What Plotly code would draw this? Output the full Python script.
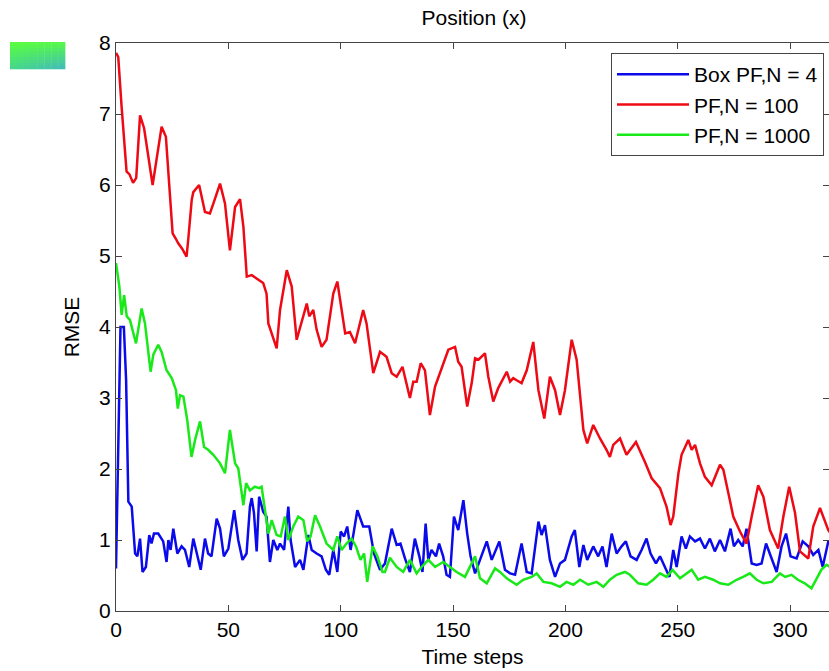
import plotly.graph_objects as go

# ---------------- data ----------------
red_t = [0, 1, 2.5, 4.7, 6, 7.6, 9, 10.7, 12.5, 14.5, 16.3, 18, 20.3, 22.2, 24, 25.2, 26.5, 27.7, 29.5, 31.4,
         32.2, 33.7, 34.4, 37, 39.6, 41.8, 44, 46.3, 48.5, 50.7, 53, 55.2, 56.7, 58.2, 60.4, 62.6, 65.5, 67, 67.8,
         71.5, 73, 76, 78.2, 80.4, 81.9, 84.9, 86, 87.8, 89.3, 91.5, 93.7, 96.7, 98.5, 102, 104.1, 106.4, 110,
         111.5, 114.5, 117.5, 120.4, 122.7, 124.9, 127.5, 130.8, 132.3, 133.8, 135.6, 137.5, 139.7, 142, 145.6,
         147.9, 150.9, 152.3, 153.8, 156.3, 158.3, 159.8, 161.3, 164.2, 165.7, 167.9, 170.1, 172.4, 173.9, 175.4,
         176.8, 178.3, 180.5, 182.8, 185.7, 188, 190.6, 193.1, 195.4, 197.6, 199.8, 202.8, 205, 208, 209.7,
         212.4, 214.6, 215.4, 218.3, 219.8, 221.3, 224.3, 227.2, 231.4, 235.4, 238.4, 242.1, 245, 246.8, 248,
         250.3, 251.7, 254.7, 256.2, 257.7, 259.9, 262.1, 265.1, 268.8, 270.3, 273.2, 274.7, 277.7, 280.6,
         282.9, 285.8, 288.1, 291, 294.7, 297, 299.6, 302.2, 304.4, 308.1, 310.3, 313.3, 317, 319]
red_v = [7.86, 7.8, 7.1, 6.19, 6.15, 6.03, 6.1, 6.98, 6.8, 6.4, 6.0, 6.35, 6.82, 6.68, 5.79, 5.32, 5.25, 5.18, 5.1, 4.99,
         5.25, 5.79, 5.9, 6.0, 5.62, 5.6, 5.8, 6.02, 5.74, 5.08, 5.69, 5.8, 5.41, 4.71, 4.73, 4.68, 4.62, 4.47, 4.05,
         3.70, 4.24, 4.80, 4.57, 3.82, 3.99, 4.33, 4.15, 4.24, 3.96, 3.72, 3.82, 4.47, 4.64, 3.91, 3.93, 3.77, 4.24,
         4.05, 3.35, 3.65, 3.58, 3.35, 3.30, 3.44, 3.0, 3.23, 3.23, 3.49, 3.39, 2.76, 3.16, 3.46,
         3.68, 3.72, 3.51, 3.44, 2.88, 3.21, 3.56, 3.54, 3.63, 3.30, 2.95, 3.14, 3.28, 3.37, 3.23,
         3.28, 3.25, 3.21, 3.39, 3.79, 3.11, 2.71, 3.30, 3.11, 2.76, 3.11, 3.82, 3.54, 2.55, 2.36,
         2.62, 2.48, 2.43, 2.27, 2.17, 2.34, 2.43, 2.20, 2.38, 2.10, 1.87, 1.73, 1.47, 1.21, 1.33,
         1.94, 2.20, 2.41, 2.27, 2.34, 2.08, 1.89, 1.77, 2.06, 1.99, 1.56, 1.33, 1.12, 0.95,
         1.33, 1.77, 1.61, 1.14, 0.88, 1.33, 1.75, 1.38, 0.84, 0.74, 1.19, 1.45, 1.14, 1.05]

blue_t = [0, 1, 2, 3.5, 4.5, 5.5, 7, 8.5, 9.5, 10.7, 11.8, 13.3, 14.8, 15.8, 16.9, 18.8, 21, 22.5, 23.3, 24.3,
          25.5, 27.3, 29.2, 30.7, 32.6, 34.4, 36.1, 37.7, 39.6, 41, 42.5, 44.8, 46.3, 48, 50, 52.6, 54.4, 56.3,
          58.1, 59.6, 60.4, 61.4, 62.6, 63.7, 65.5, 67, 68.5, 70, 71.8, 73, 74.8, 76.7, 77.7, 79.7, 81.9, 83.4,
          85.6, 87.1, 89.3, 91.5, 93.4, 94.9, 96.7, 98.5, 100, 101.5, 102.9, 104.4, 105.6, 107.4, 110, 112.7,
          114.8, 117.5, 119.7, 122.7, 124.9, 126.6, 128.6, 130.8, 133, 135, 136.4, 137.8, 139, 140.4, 142.4,
          143.8, 145.6, 147.1, 148.6, 150.4, 152.3, 154.6, 156.3, 157.8, 159.8, 162, 165, 167.2, 170.6, 173.1,
          175.4, 177.6, 180.5, 182.8, 185, 188, 189.4, 190.9, 193.1, 195.4, 197.6, 199.8, 202.8, 204.2, 206.2,
          208, 209.7, 212.4, 214.6, 216.5, 218.3, 220.6, 222.8, 225, 226.9, 229, 231.7, 233.9, 236.1, 237.9,
          240.3, 242.1, 244.3, 246.3, 248, 249.5, 251.7, 253.6, 255.4, 257.7, 259.9, 262.1, 264.3, 266.5,
          268.8, 271, 273.5, 275, 276.9, 278.9, 280.6, 282.9, 285.1, 287.3, 289.3, 291.3, 294, 296.2, 298.2,
          300.2, 302.9, 305.6, 308.1, 310.3, 312.6, 314.5, 317, 319]
blue_v = [0.6, 2.5, 4.0, 4.0, 3.25, 1.54, 1.47, 0.81, 0.77, 1.02, 0.55, 0.62, 1.07, 0.95, 1.09, 1.09, 0.98, 0.69, 1.0, 0.86,
          1.16, 0.81, 0.91, 0.86, 0.62, 1.02, 0.81, 0.58, 1.02, 0.81, 0.77, 1.30, 1.16, 0.77, 0.88, 1.42, 1.0, 0.72,
          0.81, 1.47, 1.59, 1.38, 0.84, 1.61, 1.40, 1.33, 0.69, 1.0, 0.86, 0.95, 0.86, 1.47, 1.0, 0.62, 0.72, 0.58,
          1.07, 0.86, 0.81, 0.77, 0.58, 0.51, 0.86, 0.55, 1.12, 1.05, 1.19, 0.86, 1.07, 1.42, 1.19, 1.19,
          0.81, 0.58, 0.67, 1.16, 0.93, 0.95, 0.74, 0.55, 1.02, 0.77, 0.55, 1.23, 0.72, 0.86, 0.77,
          0.95, 0.77, 0.51, 0.48, 1.33, 1.14, 1.56, 1.09, 0.77, 0.53, 0.72, 0.98, 0.72, 0.98, 0.58,
          0.53, 0.51, 0.95, 0.55, 0.53, 1.26, 1.07, 1.21, 0.72, 0.48, 0.67, 0.72, 1.05, 1.14, 0.62,
          0.93, 0.72, 0.91, 0.77, 0.91, 0.62, 1.09, 0.81, 0.91, 0.98, 0.77, 0.72, 0.86, 1.02, 0.81,
          0.67, 0.77, 0.62, 0.48, 0.86, 0.62, 1.05, 0.88, 1.05, 0.98, 1.02, 0.88, 1.02, 0.84,
          1.0, 0.84, 1.16, 0.91, 1.0, 0.91, 1.16, 0.67, 0.65, 0.67, 0.95, 0.77, 0.55, 0.91, 1.09,
          0.77, 0.74, 0.98, 0.91, 0.79, 0.86, 0.62, 0.98, 1.0]

green_t = [0, 1.5, 2.5, 3.6, 4.8, 6.2, 8.9, 11.4, 12.9, 15.4, 16.6, 18.8, 20.3, 22.5, 24.8, 26.7, 27.5, 28.5, 30,
           31.7, 33.6, 35.2, 37.4, 39.2, 41, 43.3, 46.3, 48.5, 50.7, 53, 54.4, 56.7, 57.9, 59.6, 61.8, 63.7, 64.8,
           66.3, 67.8, 69.3, 71.5, 73.3, 75.2, 76.7, 78.9, 81.1, 83.4, 85.1, 86.6, 88.6, 90.8, 93.7, 96.7, 98.5,
           100.4, 102.6, 104.8, 106.8, 108.8, 110.4, 111.8, 114.2, 116.3, 118.6, 119.7, 121.9, 124.9, 127.8, 130.8,
           133.8, 136, 139, 142, 145.6, 148.6, 151.6, 155.3, 157.5, 159.8, 162, 165, 168.7, 170.9, 173.9, 178.3,
           181.2, 185, 187.2, 190.2, 193.9, 197.6, 200.5, 203.5, 206.5, 210.2, 213.9, 216.9, 219.8, 222.8, 226.5,
           228.7, 232.4, 236.1, 239.1, 242.1, 245, 247.7, 251, 254, 256.2, 259.1, 262.1, 265.8, 268.8, 272.5,
           276.2, 279.1, 282.1, 285.1, 288.1, 291.8, 295.5, 297.8, 300.6, 303.5, 306.5, 309.5, 311.7, 313.9,
           316.2, 319]
green_v = [4.90, 4.57, 4.17, 4.45, 4.15, 4.10, 3.77, 4.26, 4.05, 3.37, 3.61, 3.75, 3.65, 3.39, 3.28, 3.11, 2.85, 3.04, 3.02,
           2.69, 2.17, 2.41, 2.67, 2.31, 2.27, 2.20, 2.08, 1.94, 2.55, 2.08, 2.01, 1.49, 1.80, 1.70, 1.75, 1.73, 1.75,
           1.38, 1.09, 1.28, 1.07, 1.05, 1.33, 1.0, 1.19, 1.33, 1.28, 0.98, 1.05, 1.35, 1.19, 0.95, 0.86, 1.05,
           0.86, 0.95, 1.02, 0.91, 0.72, 0.81, 0.41, 0.91, 0.77, 0.55, 0.55, 0.75, 0.62, 0.55, 0.72,
           0.53, 0.62, 0.72, 0.62, 0.69, 0.62, 0.55, 0.48, 0.62, 0.77, 0.46, 0.39, 0.60, 0.55, 0.46, 0.37,
           0.44, 0.48, 0.53, 0.41, 0.39, 0.34, 0.41, 0.37, 0.44, 0.37, 0.41, 0.34, 0.44, 0.51, 0.55,
           0.51, 0.39, 0.37, 0.44, 0.53, 0.48, 0.58, 0.46, 0.53, 0.58, 0.44, 0.48, 0.44, 0.39, 0.37,
           0.44, 0.48, 0.53, 0.44, 0.39, 0.41, 0.53, 0.48, 0.51, 0.44, 0.39, 0.32, 0.44, 0.58,
           0.65, 0.6]

series_names = ["Box PF,N = 4", "PF,N = 100", "PF,N = 1000"]
x_ticks = [0, 50, 100, 150, 200, 250, 300]
y_ticks = [0, 1, 2, 3, 4, 5, 6, 7, 8]

# ---------------- layout geometry (pixels) ----------------
W, H = 829, 671
L, R, T, B = 116, 0, 43, 60
PW, PH = W - L - R, H - T - B
FONT = "Liberation Sans, Arial, sans-serif"
FS = 21

def px_to_paper_x(px):
    return (px - L) / PW

def px_to_paper_y(py):
    return (H - B - py) / PH

fig = go.Figure()
fig.add_trace(go.Scatter(x=blue_t, y=blue_v, mode="lines", name=series_names[0],
                         line=dict(color="rgb(10,10,235)", width=2.5)))
fig.add_trace(go.Scatter(x=red_t, y=red_v, mode="lines", name=series_names[1],
                         line=dict(color="rgb(238,10,20)", width=2.5)))
fig.add_trace(go.Scatter(x=green_t, y=green_v, mode="lines", name=series_names[2],
                         line=dict(color="rgb(25,232,25)", width=2.5)))

# gradient swatch in the top-left corner (decoration)
shapes = []
x0p, x1p, y0p, y1p = 10, 65, 42, 69
ncol, nrow = 8, 9
TL, TR, BL, BR = (90, 255, 60), (85, 250, 70), (70, 215, 140), (65, 185, 190)
for i in range(nrow):
    for j in range(ncol):
        fy = (i + 0.5) / nrow
        fx = (j + 0.5) / ncol
        c = [TL[k] * (1 - fx) * (1 - fy) + TR[k] * fx * (1 - fy) + BL[k] * (1 - fx) * fy + BR[k] * fx * fy
             for k in range(3)]
        xa = x0p + (x1p - x0p) * j / ncol
        xb = x0p + (x1p - x0p) * (j + 1) / ncol
        ya = y0p + (y1p - y0p) * i / nrow
        yb = y0p + (y1p - y0p) * (i + 1) / nrow
        shapes.append(dict(type="rect", xref="paper", yref="paper",
                           x0=px_to_paper_x(xa), x1=px_to_paper_x(xb) + 0.0005,
                           y0=px_to_paper_y(yb) - 0.0005, y1=px_to_paper_y(ya),
                           line=dict(width=0),
                           fillcolor="rgb(%d,%d,%d)" % tuple(int(round(v)) for v in c),
                           layer="above"))

axis_common = dict(showline=True, linecolor="#444", linewidth=1.2, mirror="ticks",
                   ticks="inside", ticklen=6, tickcolor="#444", tickwidth=1,
                   showgrid=False, zeroline=False,
                   tickfont=dict(family=FONT, size=FS, color="black"))

fig.update_layout(
    width=W, height=H,
    margin=dict(l=L, r=R, t=T, b=B, autoexpand=False),
    paper_bgcolor="white", plot_bgcolor="white",
    font=dict(family=FONT, size=FS, color="black"),
    title=dict(text="Position (x)", font=dict(family=FONT, size=FS, color="black"),
               xref="paper", x=px_to_paper_x(474), xanchor="center",
               yref="container", y=1 - 18 / H, yanchor="middle"),
    xaxis=dict(range=[0, PW / 2.247], tickvals=x_ticks,
               title=dict(text="Time steps", standoff=9, font=dict(family=FONT, size=FS)),
               **axis_common),
    yaxis=dict(range=[0, 8], tickvals=y_ticks,
               title=dict(text="RMSE", standoff=13, font=dict(family=FONT, size=FS)),
               **axis_common),
    legend=dict(x=px_to_paper_x(824), xanchor="right", y=px_to_paper_y(53), yanchor="top",
                bgcolor="white", bordercolor="#444", borderwidth=1,
                font=dict(family=FONT, size=FS, color="black"),
                itemwidth=72, tracegroupgap=0),
    shapes=shapes,
    showlegend=True,
)

fig.write_html("out.html")
